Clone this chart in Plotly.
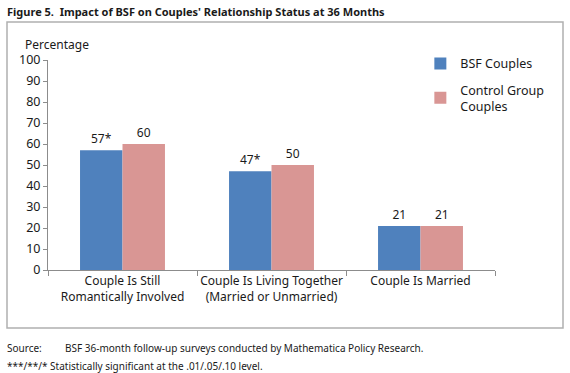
import plotly.graph_objects as go

categories = ["Couple Is Still<br>Romantically Involved",
              "Couple Is Living Together<br>(Married or Unmarried)",
              "Couple Is Married"]
bsf_values = [57, 47, 21]
bsf_labels = ["57*", "47*", "21"]
control_values = [60, 50, 21]
control_labels = ["60", "50", "21"]
y_ticks = [0, 10, 20, 30, 40, 50, 60, 70, 80, 90, 100]

FONT = "Noto Sans"
TXT = "#1a1a1a"

fig = go.Figure()
fig.add_trace(go.Bar(x=categories, y=bsf_values, name="BSF Couples", legendgroup="a",
                     marker=dict(color="#4F81BD", line=dict(width=0)),
                     text=bsf_labels, textposition="outside", cliponaxis=False,
                     textfont=dict(size=12, color=TXT, family=FONT)))
fig.add_trace(go.Bar(x=categories, y=control_values, name="Control Group<br>Couples",
                     legendgroup="b",
                     marker=dict(color="#D99694", line=dict(width=0)),
                     text=control_labels, textposition="outside", cliponaxis=False,
                     textfont=dict(size=12, color=TXT, family=FONT)))

fig.update_layout(
    width=570, height=373,
    margin=dict(l=48, r=75, t=60, b=103, autoexpand=False),
    paper_bgcolor="white", plot_bgcolor="white",
    barmode="group", bargap=0.43, bargroupgap=0,
    font=dict(family=FONT, size=12, color=TXT),
    showlegend=True,
    legend=dict(x=0.833, y=1.053, xanchor="left", yanchor="top",
                font=dict(size=12.5, color=TXT, family=FONT),
                tracegroupgap=7, bgcolor="rgba(0,0,0,0)"),
    xaxis=dict(showline=True, linecolor="#8c8c8c", linewidth=1, tickangle=0,
               automargin=False,
               ticks="outside", tickson="boundaries", ticklen=5, tickcolor="#8c8c8c",
               tickfont=dict(size=12, color=TXT, family=FONT), showgrid=False),
    yaxis=dict(range=[0, 100], tickvals=y_ticks, showline=True, linecolor="#8c8c8c",
               linewidth=1, ticks="outside", ticklen=4, tickcolor="#8c8c8c",
               showgrid=False, zeroline=False, automargin=False,
               tickfont=dict(size=12.5, color=TXT, family=FONT)),
)

# Outer chart border
fig.add_shape(type="rect", xref="paper", yref="paper",
              x0=-41/447, x1=515/447, y0=(270-328)/210, y1=(270-22)/210,
              line=dict(color="#b0b0b0", width=1.5), fillcolor="rgba(0,0,0,0)", layer="below")

fig.add_annotation(text="<b>Figure 5.  Impact of BSF on Couples' Relationship Status at 36 Months</b>",
                   xref="paper", yref="paper", x=-43/447, y=(270-12)/210,
                   xanchor="left", yanchor="middle", showarrow=False,
                   font=dict(size=11, color=TXT, family=FONT))
fig.add_annotation(text="Percentage", xref="paper", yref="paper",
                   x=-25/447, y=(270-44)/210, xanchor="left", yanchor="middle",
                   showarrow=False, font=dict(size=12, color=TXT, family=FONT))
fig.add_annotation(text="Source:", xref="paper", yref="paper",
                   x=-43/447, y=(270-348)/210, xanchor="left", yanchor="middle",
                   showarrow=False, font=dict(size=10, color=TXT, family=FONT))
fig.add_annotation(text="BSF 36-month follow-up surveys conducted by Mathematica Policy Research.",
                   xref="paper", yref="paper",
                   x=15/447, y=(270-348)/210, xanchor="left", yanchor="middle",
                   showarrow=False, font=dict(size=10, color=TXT, family=FONT))
fig.add_annotation(text="***/**/* Statistically significant at the .01/.05/.10 level.",
                   xref="paper", yref="paper",
                   x=-43/447, y=(270-366)/210, xanchor="left", yanchor="middle",
                   showarrow=False, font=dict(size=10, color=TXT, family=FONT))

fig.write_html("out.html", config={"displayModeBar": False},
               post_script="document.body.style.margin='0';document.body.style.padding='0';")
